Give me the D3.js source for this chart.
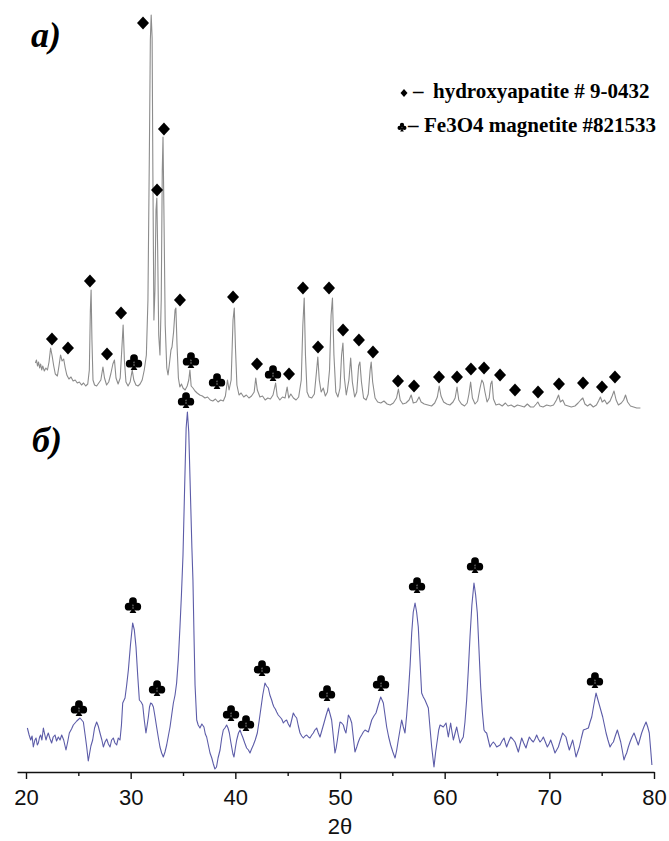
<!DOCTYPE html>
<html>
<head>
<meta charset="utf-8">
<script src="https://cdn.jsdelivr.net/npm/d3@7"></script>
<style>
  body { margin: 0; background: #fff; }
  svg { display: block; }
</style>
</head>
<body>
<svg id="chart" width="669" height="841"></svg>
<script>
// XRD pattern (а): hydroxyapatite with magnetite, [2θ, intensity a.u.]
const patternA = [
  [20.9,47],[21.0,50],[21.1,44],[21.2,48],[21.3,42],[21.4,46],[21.5,40],[21.6,44],[21.75,39],[21.9,42],
  [22.05,40],[22.2,48],[22.35,62],[22.5,54],[22.65,44],[22.8,36],[23.0,34],[23.15,44],[23.3,55],[23.45,49],
  [23.6,51],[23.75,42],[23.9,35],[24.1,31],[24.3,33],[24.5,29],[24.7,30],[24.9,27],[25.1,28],[25.3,25],
  [25.5,27],[25.7,24],[25.9,26],[26.05,40],[26.15,100],[26.22,120],[26.3,70],[26.4,30],[26.55,25],[26.75,24],
  [26.95,27],[27.15,30],[27.35,43],[27.5,32],[27.7,25],[27.9,28],[28.1,36],[28.3,46],[28.45,50],[28.6,32],
  [28.8,26],[29.0,32],[29.15,60],[29.28,85],[29.4,50],[29.55,28],[29.75,24],[29.95,28],[30.15,40],[30.3,30],
  [30.5,25],[30.7,24],[30.9,26],[31.1,30],[31.3,40],[31.5,55],[31.65,110],[31.78,250],[31.88,370],[31.96,395],
  [32.05,372],[32.12,240],[32.22,90],[32.32,120],[32.42,200],[32.5,212],[32.58,160],[32.68,75],[32.8,55],[32.92,110],
  [33.02,240],[33.09,273],[33.17,205],[33.3,85],[33.45,42],[33.57,35],[33.7,46],[33.85,60],[33.95,63],[34.1,78],
  [34.24,100],[34.32,102],[34.43,65],[34.56,32],[34.7,23],[34.85,26],[35.0,22],[35.2,20],[35.4,24],[35.55,30],
  [35.66,40],[35.78,24],[35.95,22],[36.15,19],[36.35,17],[36.6,15],[36.85,14],[37.1,12],[37.35,13],[37.6,10],
  [37.85,9],[38.1,11],[38.35,8],[38.6,10],[38.85,9],[39.05,14],[39.25,30],[39.4,20],[39.6,30],[39.78,90],
  [39.9,102],[40.02,60],[40.15,25],[40.35,15],[40.55,17],[40.8,13],[41.05,15],[41.3,12],[41.55,14],[41.8,18],
  [41.95,32],[42.1,20],[42.35,13],[42.6,14],[42.85,10],[43.1,12],[43.35,11],[43.6,15],[43.85,27],[44.0,14],
  [44.25,10],[44.5,13],[44.75,12],[44.95,23],[45.1,12],[45.3,16],[45.55,12],[45.8,10],[46.05,13],[46.3,30],
  [46.45,85],[46.58,112],[46.7,55],[46.85,18],[47.05,13],[47.3,12],[47.55,16],[47.75,38],[47.88,53],[48.02,30],
  [48.2,18],[48.4,22],[48.6,14],[48.8,18],[49.0,40],[49.15,95],[49.28,112],[49.42,55],[49.6,18],[49.8,13],
  [50.0,22],[50.15,55],[50.28,67],[50.42,32],[50.6,15],[50.85,30],[51.02,52],[51.18,28],[51.4,13],[51.6,18],
  [51.78,44],[51.9,48],[52.05,28],[52.25,12],[52.5,10],[52.7,16],[52.88,40],[52.98,48],[53.12,28],[53.35,12],
  [53.6,8],[53.9,7],[54.2,9],[54.5,6],[54.8,5],[55.1,7],[55.4,12],[55.58,21],[55.75,10],[56.0,6],
  [56.3,7],[56.6,10],[56.8,15],[57.0,7],[57.3,8],[57.55,13],[57.75,8],[58.05,6],[58.4,5],[58.75,4],
  [59.05,7],[59.3,13],[59.48,24],[59.65,14],[59.9,8],[60.2,6],[60.5,5],[60.8,8],[61.0,12],[61.18,23],
  [61.35,10],[61.6,6],[61.9,4],[62.15,7],[62.32,16],[62.48,28],[62.65,12],[62.9,6],[63.15,9],[63.38,22],
  [63.55,30],[63.7,27],[63.85,18],[64.05,8],[64.25,12],[64.4,26],[64.52,29],[64.66,11],[64.9,5],[65.2,6],
  [65.5,4],[65.8,7],[66.05,4],[66.35,5],[66.65,3],[66.95,5],[67.3,4],[67.6,3],[67.9,6],[68.2,3],
  [68.5,3],[68.75,6],[68.9,8],[69.1,4],[69.4,3],[69.75,5],[70.1,4],[70.4,5],[70.68,10],[70.88,15],
  [71.05,8],[71.28,10],[71.5,5],[71.8,4],[72.1,3],[72.45,4],[72.75,7],[73.0,10],[73.2,12],[73.4,6],
  [73.65,4],[73.9,6],[74.2,3],[74.5,5],[74.7,9],[74.88,13],[75.05,8],[75.28,10],[75.5,6],[75.8,9],
  [76.0,14],[76.18,19],[76.38,10],[76.6,5],[76.88,7],[77.1,10],[77.28,15],[77.48,8],[77.75,4],[78.05,3],
  [78.35,2],[78.7,2]
];

// XRD pattern (б): magnetite Fe3O4, [2θ, intensity a.u.]
const patternB = [
  [20.13,42],[20.3,35],[20.45,30],[20.58,34],[20.7,23],[20.85,30],[20.96,32],[21.08,25],[21.18,27],[21.3,33],
  [21.4,35],[21.52,30],[21.66,42],[21.78,36],[21.91,30],[22.02,34],[22.13,37],[22.3,31],[22.45,27],[22.6,33],
  [22.77,35],[22.92,29],[23.09,33],[23.25,30],[23.41,35],[23.6,30],[23.82,20],[23.98,28],[24.14,37],[24.35,41],
  [24.52,45],[24.85,49],[25.16,52],[25.48,48],[25.65,35],[25.8,23],[25.95,9],[26.2,24],[26.37,30],[26.55,42],
  [26.75,48],[26.9,44],[27.07,37],[27.25,30],[27.39,23],[27.55,28],[27.71,31],[27.87,26],[28.03,23],[28.18,30],
  [28.34,32],[28.5,27],[28.66,25],[28.82,32],[28.98,30],[29.12,45],[29.24,67],[29.46,72],[29.62,85],[29.78,100],
  [29.98,125],[30.19,147],[30.35,140],[30.51,123],[30.67,95],[30.83,70],[31.0,68],[31.15,65],[31.3,50],[31.46,37],
  [31.58,45],[31.69,53],[31.8,63],[31.91,67],[32.04,66],[32.17,63],[32.3,55],[32.48,43],[32.65,32],[32.8,23],
  [32.96,17],[33.12,13],[33.28,18],[33.44,25],[33.6,34],[33.76,43],[33.92,55],[34.08,67],[34.24,75],[34.39,87],
  [34.55,110],[34.71,143],[34.85,175],[35.0,215],[35.15,280],[35.3,342],[35.42,358],[35.55,338],[35.7,280],[35.85,222],
  [35.95,190],[36.05,135],[36.15,85],[36.31,50],[36.45,45],[36.62,42],[36.8,46],[37.0,43],[37.13,36],[37.26,33],
  [37.42,25],[37.58,17],[37.75,12],[37.9,6],[38.05,1],[38.2,3],[38.35,12],[38.54,20],[38.7,32],[38.85,40],
  [39.0,42],[39.17,45],[39.3,42],[39.43,37],[39.55,29],[39.65,23],[39.77,16],[39.87,13],[40.0,22],[40.13,30],
  [40.3,37],[40.45,40],[40.58,36],[40.7,33],[40.9,27],[41.08,22],[41.25,20],[41.4,17],[41.55,21],[41.72,25],
  [41.9,30],[42.1,37],[42.26,48],[42.42,60],[42.62,75],[42.83,87],[42.98,84],[43.15,82],[43.3,75],[43.47,70],
  [43.58,66],[43.69,63],[43.82,61],[43.95,58],[44.1,55],[44.27,53],[44.43,51],[44.59,47],[44.75,49],[44.9,50],
  [45.06,46],[45.22,43],[45.38,50],[45.54,57],[45.7,54],[45.86,52],[46.02,44],[46.18,37],[46.34,34],[46.5,32],
  [46.66,34],[46.82,35],[46.98,33],[47.13,32],[47.3,35],[47.45,37],[47.6,40],[47.77,42],[47.93,37],[48.09,33],
  [48.28,40],[48.47,47],[48.68,55],[48.89,62],[49.05,56],[49.2,50],[49.36,34],[49.52,17],[49.63,22],[49.75,30],
  [49.88,40],[50.0,48],[50.16,47],[50.32,45],[50.45,40],[50.57,37],[50.68,45],[50.8,55],[50.96,52],[51.12,47],
  [51.28,32],[51.43,18],[51.6,23],[51.75,28],[51.9,32],[52.07,35],[52.23,38],[52.39,40],[52.55,39],[52.71,38],
  [52.87,44],[53.03,50],[53.24,54],[53.44,57],[53.66,65],[53.89,73],[54.02,70],[54.14,67],[54.3,55],[54.46,43],
  [54.65,33],[54.84,25],[55.05,18],[55.26,12],[55.42,20],[55.57,30],[55.73,40],[55.89,50],[56.05,43],[56.21,37],
  [56.37,55],[56.53,77],[56.7,105],[56.85,137],[57.0,158],[57.17,167],[57.32,158],[57.48,143],[57.64,110],[57.8,77],
  [57.96,73],[58.12,70],[58.28,66],[58.44,62],[58.6,42],[58.76,23],[58.88,12],[58.98,3],[59.14,18],[59.3,30],
  [59.43,40],[59.56,45],[59.72,44],[59.87,43],[60.0,45],[60.13,47],[60.24,40],[60.35,33],[60.46,40],[60.57,47],
  [60.7,38],[60.83,30],[61.0,37],[61.15,43],[61.3,35],[61.47,27],[61.62,30],[61.78,33],[61.94,48],[62.1,70],
  [62.26,100],[62.42,133],[62.6,165],[62.8,187],[62.96,175],[63.12,157],[63.28,120],[63.44,83],[63.6,58],[63.76,40],
  [63.88,38],[64.01,37],[64.17,30],[64.33,23],[64.49,26],[64.65,28],[64.81,26],[64.97,23],[65.13,24],[65.29,25],
  [65.48,29],[65.67,32],[65.8,27],[65.92,23],[66.1,28],[66.31,33],[66.5,31],[66.72,28],[66.88,23],[67.04,18],
  [67.2,25],[67.36,32],[67.55,27],[67.77,22],[67.93,28],[68.09,33],[68.28,30],[68.47,28],[68.63,31],[68.79,35],
  [68.95,31],[69.11,28],[69.27,30],[69.43,33],[69.62,28],[69.81,23],[69.97,26],[70.13,30],[70.33,24],[70.54,17],
  [70.7,20],[70.86,23],[71.06,30],[71.27,37],[71.43,35],[71.59,33],[71.75,26],[71.91,20],[72.07,25],[72.23,30],
  [72.39,22],[72.55,13],[72.71,18],[72.87,23],[73.06,32],[73.25,40],[73.5,41],[73.73,42],[73.89,48],[74.05,53],
  [74.25,65],[74.46,77],[74.62,71],[74.78,65],[74.94,59],[75.1,53],[75.26,45],[75.42,37],[75.6,30],[75.8,23],
  [75.96,26],[76.12,28],[76.3,34],[76.5,40],[76.66,34],[76.82,28],[76.98,19],[77.13,10],[77.26,14],[77.39,17],
  [77.55,23],[77.71,28],[77.9,33],[78.09,37],[78.3,31],[78.5,25],[78.66,31],[78.82,37],[79.03,43],[79.24,48],
  [79.4,43],[79.55,37],[79.67,22],[79.8,5]
];

// Phase markers: [2θ, height of the marker] on each pattern
const hapMarksA = [
  [22.48,71],[24.01,62],[26.11,129],[27.74,56],[29.08,97],[31.18,387],[32.52,220],[33.18,281],
  [34.71,110],[39.78,113],[42.07,46],[45.13,36],[46.46,122],[47.9,63],[48.95,122],[50.29,80],
  [51.81,70],[53.15,58],[55.54,29],[57.07,24],[59.46,33],[61.18,33],[62.51,41],[63.76,42],
  [65.29,35],[66.72,20],[68.92,18],[70.92,26],[73.22,27],[75.03,23],[76.27,33]
];
const mgtMarksA = [[30.32,48],[35.76,50],[38.25,29],[43.6,37]];
const mgtMarksB = [
  [25.06,62],[30.22,165],[32.52,82],[35.29,370],[39.59,57],[41.02,47],[42.55,102],
  [48.76,77],[53.92,87],[57.36,185],[62.9,205],[74.36,90]
];

const xTicks = [20, 30, 40, 50, 60, 70, 80];
const xMinorTicks = [25, 35, 45, 55, 65, 75];
const panelLabels = ["а)", "б)"];
const legendLabels = ["hydroxyapatite # 9-0432", "Fe3O4 magnetite #821533"];
const xTitle = "2θ";

// vertical shift of pattern (а) above pattern (б)
const offsetA = 360;

const svg = d3.select("#chart");

const x = d3.scaleLinear().domain([19.14, 80]).range([17, 654]);
const y = d3.scaleLinear().domain([-2, 755]).range([772, 15]);

const line = d3.line().x(d => x(d[0])).y(d => y(d[1]));

// diamond and club glyphs centred on (0,0)
function diamondPath(w, h) {
  const p = d3.path();
  p.moveTo(0, -h / 2); p.lineTo(w / 2, 0); p.lineTo(0, h / 2); p.lineTo(-w / 2, 0); p.closePath();
  return p.toString();
}
function clubPath(s) {
  const p = d3.path();
  const r = 3.9 * s;
  const leaves = [[0, -3.8], [-4.3, 1.7], [4.3, 1.7]];
  leaves.forEach(([cx, cy]) => {
    p.moveTo(cx * s + r, cy * s);
    p.arc(cx * s, cy * s, r, 0, 2 * Math.PI);
  });
  p.moveTo(0, -1 * s);
  p.lineTo(-1 * s, 4 * s);
  p.lineTo(-3.4 * s, 8 * s);
  p.lineTo(3.4 * s, 8 * s);
  p.lineTo(1 * s, 4 * s);
  p.closePath();
  return p.toString();
}

// traces
svg.append("path")
  .datum(patternA.map(d => [d[0], d[1] + offsetA]))
  .attr("d", line)
  .attr("fill", "none")
  .attr("stroke", "#8c8c8c")
  .attr("stroke-width", 1.1)
  .attr("stroke-linejoin", "round");

svg.append("path")
  .datum(patternB)
  .attr("d", line)
  .attr("fill", "none")
  .attr("stroke", "#5c5ca8")
  .attr("stroke-width", 1.1)
  .attr("stroke-linejoin", "round");

// markers
const markG = svg.append("g").attr("fill", "#000");
markG.selectAll(".hap").data(hapMarksA).join("path")
  .attr("class", "hap")
  .attr("d", diamondPath(12, 13))
  .attr("transform", d => `translate(${x(d[0])},${y(d[1] + offsetA)})`);
markG.selectAll(".mgtA").data(mgtMarksA).join("path")
  .attr("class", "mgtA")
  .attr("d", clubPath(1))
  .attr("transform", d => `translate(${x(d[0])},${y(d[1] + offsetA)})`);
markG.selectAll(".mgtB").data(mgtMarksB).join("path")
  .attr("class", "mgtB")
  .attr("d", clubPath(1))
  .attr("transform", d => `translate(${x(d[0])},${y(d[1])})`);

// x axis
const axisG = svg.append("g").attr("transform", `translate(0,${y(-2)})`);
axisG.call(d3.axisBottom(x).tickValues(xTicks).tickSize(7).tickSizeOuter(0).tickPadding(10).tickFormat(d3.format("d")));
axisG.select(".domain").attr("stroke", "#111").attr("stroke-width", 1.6);
axisG.selectAll(".tick line").attr("stroke", "#111").attr("stroke-width", 1.4);
axisG.selectAll(".tick text")
  .attr("fill", "#111")
  .style("font-family", "'Liberation Sans', Arial, sans-serif")
  .style("font-size", "22px");

const minorG = svg.append("g").attr("transform", `translate(0,${y(-2)})`);
minorG.call(d3.axisBottom(x).tickValues(xMinorTicks).tickSize(4).tickSizeOuter(0).tickFormat(""));
minorG.select(".domain").remove();
minorG.selectAll(".tick line").attr("stroke", "#111").attr("stroke-width", 1.4);

svg.append("text")
  .attr("x", (x(20) + x(80)) / 2)
  .attr("y", 834)
  .attr("text-anchor", "middle")
  .attr("fill", "#111")
  .style("font-family", "'Liberation Sans', Arial, sans-serif")
  .style("font-size", "22px")
  .text(xTitle);

// panel labels
const labelPos = [[31, 47], [32, 452]];
svg.selectAll(".panel").data(panelLabels).join("text")
  .attr("class", "panel")
  .attr("x", (d, i) => labelPos[i][0])
  .attr("y", (d, i) => labelPos[i][1])
  .attr("fill", "#000")
  .style("font-family", "'Liberation Serif', 'Times New Roman', serif")
  .style("font-weight", "bold")
  .style("font-style", "italic")
  .style("font-size", "36px")
  .text(d => d);

// legend
const legend = svg.append("g")
  .style("font-family", "'Liberation Serif', 'Times New Roman', serif")
  .style("font-weight", "bold")
  .style("font-size", "21px")
  .attr("fill", "#000");
legend.append("path").attr("d", diamondPath(7, 8)).attr("transform", "translate(404,93)");
legend.append("path").attr("d", clubPath(0.55)).attr("transform", "translate(402,127)");
legend.append("text").attr("x", 413).attr("y", 98).text("–");
legend.append("text").attr("x", 433).attr("y", 98).text(legendLabels[0]);
legend.append("text").attr("x", 408).attr("y", 132).text("–");
legend.append("text").attr("x", 424).attr("y", 132).text(legendLabels[1]);
</script>
</body>
</html>
